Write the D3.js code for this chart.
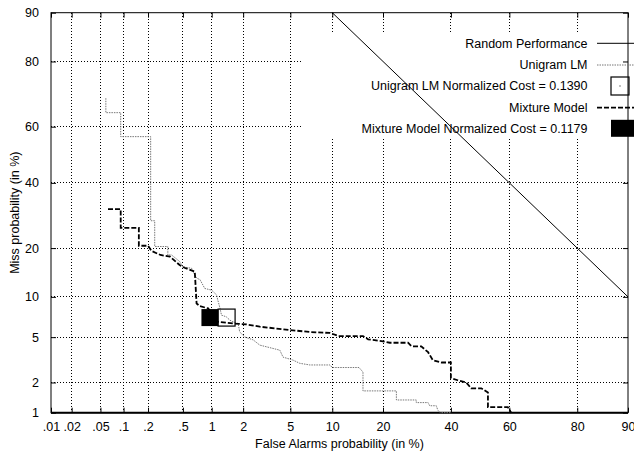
<!DOCTYPE html>
<html><head><meta charset="utf-8">
<script src="https://cdn.jsdelivr.net/npm/d3@7"></script>
<style>
html,body{margin:0;padding:0;background:#fff;}
svg{display:block;font-family:"Liberation Sans",Arial,Helvetica,sans-serif;}
</style></head>
<body><svg id="c" width="634" height="454"></svg>
<script>
// ---- data (percent) ----
const xTickValues = [0.01, 0.02, 0.05, 0.1, 0.2, 0.5, 1, 2, 5, 10, 20, 40, 60, 80, 90];
const xTickLabels = [".01", ".02", ".05", ".1", ".2", ".5", "1", "2", "5", "10", "20", "40", "60", "80", "90"];
const yTickValues = [1, 2, 5, 10, 20, 40, 60, 80, 90];
const yTickLabels = ["1", "2", "5", "10", "20", "40", "60", "80", "90"];

const randomFA   = [10, 90];
const randomMiss = [90, 10];

const unigramFA   = [0.059,0.059,0.092,0.092,0.215,0.215,0.24,0.24,0.34,0.34,0.375,0.46,0.50,0.62,0.67,0.70,0.76,0.85,1.0,1.12,1.15,1.2,1.25,1.39,1.5,1.61,1.8,1.86,2.08,2.46,2.81,3.41,4.13,4.38,5.25,5.9,7.0,9.65,10,14.7,15.5,15.5,23.4,23.4,29.0,29.0,32.6,33.1,35.2,35.7,36.5,40];
const unigramMiss = [69.5,64.8,64.8,56.5,56.5,27.6,27.6,20.4,20.4,18.3,18.3,16.8,15.6,15.3,13.9,13.3,13.0,11.4,11.1,10.3,9.5,8.5,7.4,7.2,6.8,6.6,6.4,5.5,5.0,4.75,4.3,4.1,3.9,3.4,3.2,3.0,2.9,2.9,2.75,2.75,2.5,1.66,1.66,1.35,1.35,1.27,1.27,1.18,1.18,1.06,1.0,1.0];

const mixtureFA   = [0.063,0.092,0.092,0.155,0.155,0.20,0.22,0.28,0.36,0.46,0.52,0.67,0.70,0.76,0.92,1.04,1.15,1.68,2.15,2.81,4.95,7.0,9.65,11.0,15.5,16.6,19.6,21.7,26.6,27.6,30.5,32.6,34.1,36.9,40.0,40.0,42.3,45.2,46.9,50.4,52.7,52.7,59.5,60.6];
const mixtureMiss = [31.2,31.2,25.5,25.5,20.6,20.6,19.3,18.3,17.9,16.0,15.4,14.6,9.0,8.6,8.3,7.4,6.6,6.4,6.3,6.05,5.7,5.5,5.4,5.1,5.1,4.8,4.65,4.5,4.5,4.2,4.2,3.75,3.2,3.05,3.05,2.2,2.1,2.0,1.76,1.76,1.6,1.14,1.14,1.0];

const costFA   = [1.4, 0.96];     // Unigram LM, Mixture Model
const costMiss = [7.1, 7.1];

const legendLabels = ["Random Performance", "Unigram LM", "Unigram LM Normalized Cost = 0.1390", "Mixture Model", "Mixture Model Normalized Cost = 0.1179"];

// ---- probit ----
function probit(p){
  const a=[-3.969683028665376e+01,2.209460984245205e+02,-2.759285104469687e+02,1.383577518672690e+02,-3.066479806614716e+01,2.506628277459239e+00];
  const b=[-5.447609879822406e+01,1.615858368580409e+02,-1.556989798598866e+02,6.680131188771972e+01,-1.328068155288572e+01];
  const c=[-7.784894002430293e-03,-3.223964580411365e-01,-2.400758277161838e+00,-2.549671071086091e+00,4.374664141464968e+00,2.938163982698783e+00];
  const d=[7.784695709041462e-03,3.224671290700398e-01,2.445134137142996e+00,3.754408661907416e+00];
  const pl=0.02425, ph=1-pl; let q,r;
  if(p<pl){q=Math.sqrt(-2*Math.log(p));return (((((c[0]*q+c[1])*q+c[2])*q+c[3])*q+c[4])*q+c[5])/((((d[0]*q+d[1])*q+d[2])*q+d[3])*q+1);}
  if(p<=ph){q=p-0.5;r=q*q;return (((((a[0]*r+a[1])*r+a[2])*r+a[3])*r+a[4])*r+a[5])*q/(((((b[0]*r+b[1])*r+b[2])*r+b[3])*r+b[4])*r+1);}
  q=Math.sqrt(-2*Math.log(1-p));return -(((((c[0]*q+c[1])*q+c[2])*q+c[3])*q+c[4])*q+c[5])/((((d[0]*q+d[1])*q+d[2])*q+d[3])*q+1);
}

const L=51, R=628, T=12.7, B=412.7;
const xLin = d3.scaleLinear().domain([probit(0.0001), probit(0.9)]).range([L, R]);
const yLin = d3.scaleLinear().domain([probit(0.01), probit(0.9)]).range([B, T]);
const X = v => xLin(probit(v/100));
const Y = v => yLin(probit(v/100));

const svg = d3.select("#c");

// grid
const g = svg.append("g");
g.selectAll("line.vx").data(xTickValues.slice(1, -1)).join("line")
  .attr("x1", X).attr("x2", X).attr("y1", T).attr("y2", B)
  .attr("stroke", "#000").attr("stroke-width", 1).attr("stroke-dasharray", "1,2").attr("shape-rendering","crispEdges");
g.selectAll("line.hy").data(yTickValues.slice(1, -1)).join("line")
  .attr("y1", Y).attr("y2", Y).attr("x1", L).attr("x2", R)
  .attr("stroke", "#000").attr("stroke-width", 1).attr("stroke-dasharray", "1,2").attr("shape-rendering","crispEdges");

// key background (hides grid)
svg.append("rect").attr("x", 301).attr("y", 33).attr("width", R - 301).attr("height", 104).attr("fill", "#fff");

// axes via d3 axis with probit tick values
const xAxisB = d3.axisBottom(xLin).tickValues(xTickValues.map(v => probit(v/100)))
  .tickFormat((d, i) => xTickLabels[i]).tickSizeInner(-5).tickSizeOuter(0).tickPadding(9);
const gx = svg.append("g").attr("transform", `translate(0,${B})`).call(xAxisB);
gx.select(".domain").remove();
gx.selectAll("text").attr("font-size", 12.5).attr("font-family", "Liberation Sans, Arial, sans-serif").attr("fill","#000");
const xAxisT = d3.axisTop(xLin).tickValues(xTickValues.map(v => probit(v/100))).tickFormat("").tickSizeInner(-5).tickSizeOuter(0);
const gxt = svg.append("g").attr("transform", `translate(0,${T})`).call(xAxisT);
gxt.select(".domain").remove();

const yAxisL = d3.axisLeft(yLin).tickValues(yTickValues.map(v => probit(v/100)))
  .tickFormat((d, i) => yTickLabels[i]).tickSizeInner(-5).tickSizeOuter(0).tickPadding(12);
const gy = svg.append("g").attr("transform", `translate(${L},0)`).call(yAxisL);
gy.select(".domain").remove();
gy.selectAll("text").attr("font-size", 12.5).attr("font-family", "Liberation Sans, Arial, sans-serif").attr("fill","#000");
const yAxisR = d3.axisRight(yLin).tickValues(yTickValues.map(v => probit(v/100))).tickFormat("").tickSizeInner(-5).tickSizeOuter(0);
const gyr = svg.append("g").attr("transform", `translate(${R},0)`).call(yAxisR);
gyr.select(".domain").remove();
svg.selectAll(".tick line").attr("stroke", "#000");

// frame
svg.append("rect").attr("x", L).attr("y", T).attr("width", R - L).attr("height", B - T)
  .attr("fill", "none").attr("stroke", "#000").attr("stroke-width", 1);
svg.append("line").attr("x1", L).attr("x2", R).attr("y1", B).attr("y2", B).attr("stroke", "#000").attr("stroke-width", 2);

// curves
const line = d3.line().x(d => X(d[0])).y(d => Y(d[1]));
const clip = svg.append("clipPath").attr("id", "pc").append("rect").attr("x", L).attr("y", T).attr("width", R - L).attr("height", B - T);

svg.append("path").attr("d", line(randomFA.map((v, i) => [v, randomMiss[i]])))
  .attr("fill", "none").attr("stroke", "#000").attr("stroke-width", 1);
svg.append("path").attr("d", line(unigramFA.map((v, i) => [v, unigramMiss[i]])))
  .attr("fill", "none").attr("stroke", "#777").attr("stroke-width", 1).attr("stroke-dasharray", "1.5,1");
svg.append("path").attr("d", line(mixtureFA.map((v, i) => [v, mixtureMiss[i]])))
  .attr("fill", "none").attr("stroke", "#000").attr("stroke-width", 1.8).attr("stroke-dasharray", "5,2");

// cost markers
const S = 17;
svg.append("rect").attr("x", X(costFA[0]) - S/2).attr("y", Y(costMiss[0]) - S/2).attr("width", S).attr("height", S)
  .attr("fill", "none").attr("stroke", "#000").attr("stroke-width", 1.2);
svg.append("rect").attr("x", X(costFA[1]) - S/2).attr("y", Y(costMiss[1]) - S/2).attr("width", S).attr("height", S)
  .attr("fill", "#000");

// legend
const ly = [43.3, 65, 86, 107.7, 128.3];
const lg = svg.append("g").attr("font-size", 12.5).attr("text-anchor", "end");
lg.selectAll("text").data(legendLabels).join("text")
  .attr("x", 587.5).attr("y", (d, i) => ly[i]).attr("dy", "0.35em").text(d => d);
svg.append("line").attr("x1", 597).attr("x2", 640).attr("y1", ly[0]).attr("y2", ly[0]).attr("stroke", "#000");
svg.append("line").attr("x1", 597).attr("x2", 640).attr("y1", ly[1]).attr("y2", ly[1]).attr("stroke", "#777").attr("stroke-dasharray", "1.5,1");
svg.append("rect").attr("x", 611).attr("y", ly[2] - 9).attr("width", 18).attr("height", 18).attr("fill", "none").attr("stroke", "#000").attr("stroke-width", 1.2);
svg.append("rect").attr("x", 619.5).attr("y", ly[2] - 0.5).attr("width", 1).attr("height", 1).attr("fill", "#000");
svg.append("line").attr("x1", 597).attr("x2", 640).attr("y1", ly[3]).attr("y2", ly[3]).attr("stroke", "#000").attr("stroke-width", 1.8).attr("stroke-dasharray", "5,2");
svg.append("rect").attr("x", 611).attr("y", ly[4] - 8.5).attr("width", 25).attr("height", 17).attr("fill", "#000");

// axis titles
svg.append("text").attr("x", (L + R) / 2).attr("y", 448).attr("text-anchor", "middle").attr("font-size", 12.5).text("False Alarms probability (in %)");
svg.append("text").attr("transform", `translate(19,${(T + B) / 2}) rotate(-90)`).attr("text-anchor", "middle").attr("font-size", 12.5).text("Miss probability (in %)");
</script></body></html>
